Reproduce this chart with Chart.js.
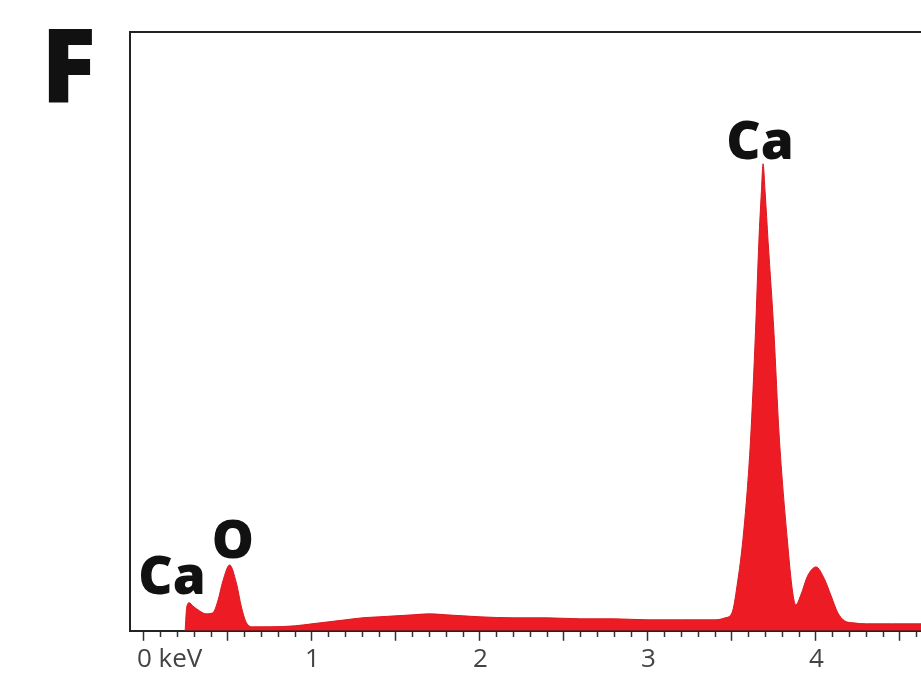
<!DOCTYPE html>
<html>
<head>
<meta charset="utf-8">
<script src="https://cdn.jsdelivr.net/npm/chart.js@4/dist/chart.umd.min.js"></script>
<style>
  html, body { margin: 0; padding: 0; background: #fff; }
  #wrap { width: 921px; height: 694px; }
</style>
</head>
<body>
<div id="wrap"><canvas id="spectrum"></canvas></div>
<script>
"use strict";

// EDS spectrum, panel F (energy in keV, counts in arbitrary units)
var energyKeV = [0.245, 0.255, 0.27, 0.29, 0.33, 0.37, 0.41, 0.44, 0.47, 0.51, 0.55, 0.58, 0.61, 0.65,
    0.75, 0.9, 1.0, 1.1, 1.2, 1.3, 1.4, 1.5, 1.6, 1.7, 1.8, 1.9, 2.0, 2.2, 2.4, 2.6, 2.8, 3.0, 3.2, 3.4,
    3.46, 3.5, 3.53, 3.57, 3.61, 3.64, 3.66, 3.675, 3.685, 3.697, 3.715, 3.75, 3.78, 3.83, 3.86, 3.88,
    3.91, 3.95, 4.0, 4.05, 4.09, 4.13, 4.17, 4.22, 4.3, 4.45, 4.625];
var counts = [0, 24, 28, 25, 20, 17, 18, 30, 50, 66, 48, 24, 8, 4,
    4, 5, 7, 9, 11, 13, 14, 15, 16, 17, 16, 15, 14, 13, 13, 12, 12, 11, 11, 11,
    13, 18, 45, 100, 190, 300, 390, 440, 468, 440, 390, 298, 198, 90, 40, 26,
    36, 55, 64, 52, 35, 18, 10, 8, 7, 7, 7];

// integer tick labels (index = keV)
var tickLabels = ["0 keV", "1", "2", "3", "4"];

// element labels placed at (keV, counts)
var peakNames = ["Ca", "O", "Ca"];
var peakKeV = [0.167, 0.53, 3.667];
var peakCounts = [37, 73, 473];

var points = energyKeV.map(function (e, i) { return { x: e, y: counts[i] }; });

// draws the element names and the panel letter
var labelPlugin = {
    id: "peakLabels",
    afterDraw: function (chart) {
        var ctx = chart.ctx,
            xs = chart.scales.x,
            ys = chart.scales.y;
        ctx.save();
        ctx.fillStyle = "#111";
        ctx.textAlign = "center";
        ctx.textBaseline = "alphabetic";
        ctx.font = "800 53px 'Open Sans'";
        for (var i = 0; i < peakNames.length; i++) {
            ctx.fillText(peakNames[i], xs.getPixelForValue(peakKeV[i]), ys.getPixelForValue(peakCounts[i]));
        }
        ctx.textAlign = "left";
        ctx.font = "800 102px 'Open Sans'";
        ctx.fillText("F", 41, 103);
        ctx.restore();
    }
};

var chart = new Chart(document.getElementById("spectrum"), {
    type: "line",
    data: {
        datasets: [{
            data: points,
            borderColor: "#d81a22",
            borderWidth: 1,
            backgroundColor: "#ed1c24",
            fill: "origin",
            pointRadius: 0,
            cubicInterpolationMode: "monotone"
        }]
    },
    options: {
        responsive: true,
        maintainAspectRatio: false,
        animation: false,
        layout: { padding: { left: 122, top: 24, right: 0, bottom: 16 } },
        plugins: {
            legend: { display: false },
            tooltip: { enabled: false }
        },
        scales: {
            x: {
                type: "linear",
                position: "bottom",
                min: -0.083,
                max: 4.625,
                z: 1,
                border: { display: true, color: "#222", width: 2 },
                grid: {
                    display: true,
                    drawOnChartArea: false,
                    drawTicks: true,
                    tickLength: 10,
                    tickColor: "#333",
                    tickWidth: 1.5,
                    tickBorderDash: function (c) {
                        var v = Math.round(c.tick.value * 10);
                        return v % 5 === 0 ? [] : [5, 20];
                    }
                },
                ticks: {
                    stepSize: 0.1,
                    includeBounds: false,
                    autoSkip: false,
                    maxRotation: 0,
                    align: "start",
                    labelOffset: -7,
                    padding: 3,
                    color: "#444",
                    font: { family: "'Open Sans'", size: 26 },
                    callback: function (value) {
                        var v = Math.round(value * 10);
                        if (v % 10 !== 0) return "";
                        return tickLabels[v / 10] || "";
                    }
                }
            },
            x2: {
                type: "linear",
                position: "top",
                min: -0.083,
                max: 4.625,
                border: { display: true, color: "#222", width: 2 },
                grid: { display: false },
                ticks: { display: false }
            },
            y: {
                min: 0,
                max: 600,
                border: { display: true, color: "#222", width: 2 },
                grid: { display: false },
                ticks: { display: false }
            }
        }
    },
    plugins: [labelPlugin]
});
</script>
</body>
</html>
